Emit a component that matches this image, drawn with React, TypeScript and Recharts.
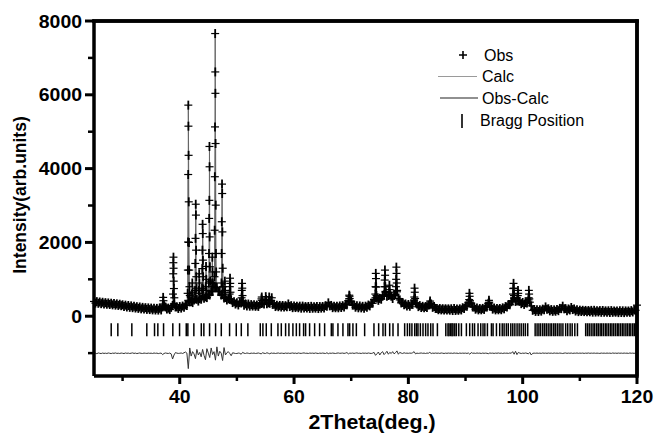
import React from 'react';
import { ComposedChart, Line, Scatter, XAxis, YAxis, Label } from 'recharts';

// 2Theta grid start and step for the background / difference readings
const GRID_START = 25;
const GRID_STEP = 0.25;

// Observed intensity read along the 0.25 deg grid (25 .. 120)
const obsGrid: number[] = [
  400, 355, 395, 350, 385, 340, 378, 332, 368, 325, 360, 318, 352, 308, 345, 300, 335, 292, 325, 285,
  310, 262, 300, 250, 290, 240, 280, 232, 268, 222, 258, 212, 250, 200, 240, 195, 232, 185, 226, 180,
  220, 172, 218, 168, 212, 166, 215, 170, 250, 275, 250, 195, 220, 180, 240, 290, 330, 250, 255, 210,
  262, 220, 275, 245, 305, 290, 430, 390, 400, 370, 440, 470, 460, 410, 475, 460, 545, 490, 525, 505,
  585, 575, 665, 670, 805, 770, 790, 670, 665, 575, 585, 495, 505, 440, 475, 455, 445, 370, 395, 330,
  365, 305, 370, 360, 385, 300, 335, 278, 330, 272, 315, 275, 308, 268, 305, 265, 325, 345, 355, 330,
  420, 340, 365, 350, 420, 320, 325, 262, 300, 258, 292, 250, 290, 248, 286, 258, 332, 262, 286, 232,
  275, 235, 268, 230, 272, 218, 274, 222, 262, 224, 264, 212, 268, 216, 256, 218, 260, 208, 262, 220,
  264, 226, 286, 268, 362, 280, 292, 232, 272, 230, 268, 228, 278, 236, 286, 248, 314, 310, 420, 410,
  402, 300, 302, 244, 282, 228, 278, 226, 268, 218, 272, 240, 302, 280, 352, 350, 452, 500, 492, 430,
  482, 460, 542, 580, 672, 540, 562, 580, 542, 480, 562, 600, 662, 480, 442, 360, 372, 310, 332, 280,
  318, 270, 322, 320, 440, 360, 332, 260, 288, 235, 268, 230, 262, 235, 302, 310, 332, 240, 262, 210,
  212, 176, 208, 172, 204, 168, 202, 166, 200, 164, 202, 154, 206, 156, 196, 160, 200, 170, 230, 212,
  278, 270, 362, 380, 352, 250, 252, 190, 220, 172, 208, 174, 212, 184, 250, 250, 342, 270, 262, 192,
  222, 172, 208, 174, 210, 176, 227, 200, 262, 248, 317, 310, 392, 420, 492, 400, 422, 410, 402, 340,
  372, 320, 367, 360, 442, 380, 282, 160, 182, 130, 177, 128, 174, 138, 192, 175, 252, 190, 202, 145,
  180, 132, 172, 135, 182, 150, 212, 205, 272, 200, 207, 150, 197, 170, 237, 180, 197, 140, 172, 125,
  164, 128, 160, 125, 157, 122, 154, 120, 158, 110, 160, 112, 150, 115, 152, 106, 155, 108, 146, 110,
  148, 102, 152, 105, 142, 108, 144, 98, 148, 100, 146, 98, 144, 108, 142, 105, 152, 115, 172, 160,
  300,
];

// Observed points on the Bragg peaks [2theta, intensity]
const obsPeaks: [number, number][] = [
  [37.05, 330], [37.1, 510], [37.15, 420], [37.2, 300],
  [38.82, 600], [38.86, 1150], [38.88, 1450], [38.9, 1600], [38.92, 1300], [38.95, 950], [38.98, 750], [39.05, 500],
  [41.38, 620], [41.42, 1250], [41.45, 2010], [41.48, 3840], [41.5, 5720], [41.52, 5150], [41.55, 4360],
  [41.58, 3100], [41.62, 2000], [41.66, 1250], [41.7, 800], [41.76, 560],
  [42.16, 600], [42.2, 900], [42.24, 650],
  [42.68, 700], [42.72, 1430], [42.76, 2110], [42.8, 3035], [42.83, 2740], [42.86, 1790], [42.9, 1070], [42.95, 760],
  [43.36, 700], [43.4, 1150], [43.44, 900], [43.48, 620],
  [43.9, 760], [43.94, 1290], [43.97, 1790], [44.0, 2490], [44.03, 2240], [44.06, 1520], [44.1, 1070], [44.15, 740],
  [44.56, 800], [44.6, 1350], [44.64, 1000], [44.68, 700],
  [45.08, 900], [45.12, 1700], [45.15, 2650], [45.18, 3140], [45.2, 4600], [45.22, 4050], [45.24, 2150], [45.28, 1340], [45.33, 950],
  [45.66, 900], [45.7, 1600], [45.74, 1200], [45.78, 900],
  [46.08, 1070], [46.11, 2330], [46.14, 3780], [46.17, 5130], [46.2, 7660], [46.22, 6620], [46.24, 6040],
  [46.27, 4680], [46.3, 3010], [46.34, 1700], [46.38, 1200],
  [47.3, 900], [47.33, 1700], [47.36, 2560], [47.4, 3580], [47.43, 3325], [47.46, 2285], [47.52, 1300], [47.56, 800],
  [47.86, 650], [47.9, 950], [47.94, 700],
  [48.72, 600], [48.76, 800], [48.8, 1030], [48.84, 890], [48.88, 650],
  [50.82, 500], [50.86, 700], [50.9, 890], [50.94, 760], [50.98, 560], [51.04, 420],
  [54.3, 470], [54.35, 520], [54.4, 430], [55.05, 530], [55.1, 450], [55.65, 520], [55.7, 430], [56.1, 500],
  [69.62, 470], [69.66, 570], [69.7, 540], [69.74, 480],
  [74.22, 600], [74.26, 800], [74.3, 1160], [74.33, 1020], [74.37, 790], [74.42, 560],
  [75.82, 800], [75.86, 980], [75.9, 1250], [75.93, 1110], [75.97, 800], [76.02, 650],
  [76.64, 650], [76.68, 840], [76.72, 720], [76.78, 580],
  [77.82, 800], [77.86, 1000], [77.9, 1330], [77.93, 1160], [77.97, 900], [78.03, 700],
  [81.04, 520], [81.08, 760], [81.12, 650], [81.18, 480],
  [83.76, 360], [83.8, 410],
  [90.64, 450], [90.68, 620], [90.72, 540], [90.78, 420],
  [94.06, 360], [94.1, 430], [94.14, 380],
  [98.32, 600], [98.36, 750], [98.4, 890], [98.44, 760], [98.48, 560],
  [99.14, 560], [99.18, 700], [99.22, 620],
  [101.04, 500], [101.08, 700], [101.12, 600], [101.16, 470],
];

// Obs - Calc difference read along the same 0.25 deg grid
const diffGrid: number[] = [
  -1010, -1000, -1015, -995, -1005, -1012, -998, -1008, -1002, -1010, -996, -1004, -1012, -1000, -1006, -995, -1008, -1003, -1010, -998,
  -1004, -1012, -996, -1006, -1000, -1010, -1002, -994, -1008, -1000, -1012, -1004, -996, -1006, -1010, -998, -1004, -1008, -1000, -1006,
  -1002, -1010, -996, -1006, -1000, -1012, -1004, -998, -1040, -1010, -996, -1004, -1010, -998, -1020, -1160, -1050, -985, -1000, -1008,
  -1004, -996, -1010, -990, -970, -1000, -1420, -860, -1080, -960, -1020, -1150, -900, -1050, -980, -1100, -900, -1060, -1180, -880,
  -1000, -1120, -860, -1040, -960, -1190, -830, -1080, -950, -1000, -1200, -850, -1050, -990, -960, -1010, -1070, -990, -1000, -1010,
  -1010, -998, -1005, -1030, -980, -1002, -1010, -996, -1004, -1012, -1000, -1006, -998, -1010, -1004, -996, -1008, -1020, -990, -1004,
  -1010, -990, -1004, -1018, -996, -1006, -1000, -1010, -1002, -996, -1008, -1000, -1004, -1010, -998, -1006, -1000, -1008, -1002, -996,
  -1006, -1000, -1010, -996, -1004, -1008, -1000, -994, -1006, -1002, -1010, -998, -1004, -1000, -1008, -996, -1004, -1010, -1000, -1006,
  -998, -1004, -1010, -990, -1015, -1000, -1006, -998, -1004, -1010, -1000, -996, -1006, -1002, -998, -1008, -1000, -985, -1020, -1000,
  -1004, -998, -1008, -1000, -994, -1006, -1002, -1010, -998, -1004, -1000, -1008, -996, -1004, -1010, -1000, -980, -1060, -1020, -970,
  -1050, -990, -960, -1040, -1000, -950, -1030, -980, -1010, -960, -1020, -990, -940, -1030, -980, -1000, -1010, -990, -1004, -1000,
  -1006, -998, -1004, -990, -960, -1020, -1000, -1008, -1002, -996, -1006, -1000, -1010, -998, -1004, -980, -1010, -1000, -1006, -998,
  -1004, -1000, -1008, -996, -1002, -1010, -1000, -1006, -998, -1004, -1000, -1008, -996, -1004, -1000, -1010, -998, -1006, -1000, -1004,
  -1000, -1008, -996, -1030, -985, -1004, -1000, -1008, -996, -1004, -1000, -1010, -998, -1006, -1000, -1004, -1015, -996, -1004, -1000,
  -1008, -1000, -1004, -996, -1006, -1000, -1010, -998, -1004, -1000, -1008, -996, -1004, -960, -1030, -950, -1040, -980, -1000, -1010,
  -1000, -1006, -996, -1004, -1020, -980, -1050, -1006, -1000, -1004, -998, -1006, -1000, -1008, -996, -1004, -1000, -1006, -998, -1004,
  -1000, -1008, -996, -1004, -1000, -1006, -998, -1004, -1010, -1000, -996, -1006, -1000, -1004, -998, -1008, -1000, -1004, -996, -1006,
  -1000, -1004, -998, -1008, -1000, -1004, -996, -1006, -1000, -1004, -998, -1006, -1000, -1004, -1008, -998, -1004, -1000, -1006, -998,
  -1004, -1000, -1008, -996, -1004, -1000, -1006, -998, -1004, -1000, -1006, -998, -1004, -1000, -1008, -996, -1004, -1000, -1006, -1000,
  -1000,
];

// Bragg reflection positions (2theta) and the level at which the tick row sits
const braggPositions: number[] = [
  28.01, 29.17, 31.62, 34.24, 35.59, 36.17, 37.17, 38.79, 39.97, 41.14, 41.42, 42.47, 43.77, 44.22, 45.22,
  46.27, 47.27, 48.72, 49.89, 50.77, 51.92, 54.09, 54.55, 55.14, 56.02, 57.18, 57.77, 58.52, 59.1, 59.8,
  60.4, 60.97, 61.67, 62.02, 62.72, 63.6, 64.47, 65.35, 66.52, 66.8, 67.68, 68.55, 69.43, 69.73, 70.3,
  70.9, 72.35, 73.98, 74.8, 75.56, 75.98, 76.73, 77.31, 78.19, 79.35, 79.83, 80.23, 80.62, 81.11, 81.42,
  81.68, 82.1, 82.56, 83.02, 83.43, 83.91, 84.31, 85.08, 86.55, 86.93, 87.12, 87.41, 87.63, 87.81, 88.12,
  88.4, 88.82, 89.28, 90.15, 90.73, 91.22, 91.58, 92.19, 92.66, 93.06, 93.38, 93.83, 94.53, 94.82, 95.41,
  95.98, 96.42, 96.75, 97.14, 97.48, 97.92, 98.27, 98.63, 99.02, 99.38, 99.74, 100.12, 100.47, 100.88,
  102.18, 102.52, 102.84, 103.15, 103.51, 103.82, 104.13, 104.46, 104.79, 105.08, 105.43, 105.71, 106.05,
  106.38, 106.7, 107.04, 107.52, 107.88, 108.3, 108.66, 109.12, 109.58, 111.02, 111.33, 111.64, 111.98,
  112.31, 112.6, 112.94, 113.22, 113.55, 113.81, 114.12, 114.45, 114.73, 115.04, 115.36, 115.62, 115.93,
  116.24, 116.55, 116.82, 117.13, 117.44, 117.72, 118.05, 118.33, 118.64, 118.92, 119.25, 119.52, 119.84,
];
const BRAGG_LEVEL = -366;

const xTicks = [30, 40, 50, 60, 70, 80, 90, 100, 110, 120];
const xMajor = [40, 60, 80, 100, 120];
const yTicks = [-1000, 0, 1000, 2000, 3000, 4000, 5000, 6000, 7000, 8000];
const yMajor = [0, 2000, 4000, 6000, 8000];

const X_DOMAIN: [number, number] = [25, 120];
const Y_DOMAIN: [number, number] = [-1620, 8000];

const gridX = obsGrid.map((_, i) => GRID_START + i * GRID_STEP);
const obsData = [
  ...obsGrid.map((y, i) => ({ x: gridX[i], y })),
  ...obsPeaks.map(([x, y]) => ({ x, y })),
].sort((a, b) => a.x - b.x);
const diffData = diffGrid.map((y, i) => ({ x: GRID_START + i * GRID_STEP, y }));
const braggData = braggPositions.map((x) => ({ x, y: BRAGG_LEVEL }));

// chart geometry
const W = 655;
const H = 435;
const MARGIN = { top: 21, right: 18, bottom: 29, left: 34 };
const Y_AXIS_W = 60;
const X_AXIS_H = 30;
const PLOT_X = MARGIN.left + Y_AXIS_W;
const PLOT_Y = MARGIN.top;
const PLOT_R = W - MARGIN.right;
const PLOT_B = H - MARGIN.bottom - X_AXIS_H;

const FONT = "'Liberation Sans', Arial, Helvetica, sans-serif";
const FRAME = { stroke: '#000', strokeWidth: 3.5 };

const PlusShape = (props: any) => {
  const { cx, cy } = props;
  if (cx == null || cy == null || isNaN(cx) || isNaN(cy)) return null;
  return (
    <g fill="none" stroke="#000">
      <path d={`M${cx - 4},${cy}H${cx + 4}`} strokeWidth={1.2} />
      <path d={`M${cx},${cy - 4.5}V${cy + 4.5}`} strokeWidth={1.8} />
    </g>
  );
};

const BraggShape = (props: any) => {
  const { cx, cy } = props;
  if (cx == null || cy == null || isNaN(cx) || isNaN(cy)) return null;
  return <line x1={cx} x2={cx} y1={cy - 6.5} y2={cy + 6.5} stroke="#000" strokeWidth={1.5} />;
};

const XTick = (props: any) => {
  const { x, y, payload } = props;
  const major = xMajor.includes(payload.value);
  const isLast = payload.value === X_DOMAIN[1];
  return (
    <g>
      {isLast && (
        <line x1={x} x2={x} y1={y + 1.75} y2={y - (PLOT_B - PLOT_Y) - 1.75} stroke="#000" strokeWidth={3.5} />
      )}
      <line x1={x} x2={x} y1={y} y2={y + (major ? 8 : 5)} stroke="#000" strokeWidth={major ? 3 : 2.5} />
      {major && (
        <text
          transform={`translate(${x},${y + 27}) scale(1.08,1)`}
          textAnchor="middle"
          fontSize={18}
          fontWeight="bold"
          fontFamily={FONT}
          fill="#000"
        >
          {payload.value}
        </text>
      )}
    </g>
  );
};

const YTick = (props: any) => {
  const { x, y, payload } = props;
  const major = yMajor.includes(payload.value);
  const isTop = payload.value === Y_DOMAIN[1];
  return (
    <g>
      {isTop && (
        <line x1={x - 1.75} x2={x + (PLOT_R - PLOT_X) + 1.75} y1={y} y2={y} stroke="#000" strokeWidth={3.5} />
      )}
      <line x1={x} x2={x - (major ? 9 : 6)} y1={y} y2={y} stroke="#000" strokeWidth={major ? 3 : 2.5} />
      {major && (
        <text
          transform={`translate(${x - 12},${y + 6.5}) scale(1.08,1)`}
          textAnchor="end"
          fontSize={18}
          fontWeight="bold"
          fontFamily={FONT}
          fill="#000"
        >
          {payload.value}
        </text>
      )}
    </g>
  );
};

const XTitle = () => (
  <text
    transform={`translate(372,429) scale(1.07,1)`}
    textAnchor="middle"
    fontSize={20}
    fontWeight="bold"
    fontFamily={FONT}
    fill="#000"
  >
    2Theta(deg.)
  </text>
);

const YTitle = () => (
  <text
    transform={`translate(26,195) rotate(-90)`}
    textAnchor="middle"
    fontSize={17.5}
    fontWeight="bold"
    fontFamily={FONT}
    fill="#000"
  >
    Intensity(arb.units)
  </text>
);

const legendItems = [
  { name: 'Obs', kind: 'plus' },
  { name: 'Calc', kind: 'calc' },
  { name: 'Obs-Calc', kind: 'diff' },
  { name: 'Bragg Position', kind: 'bragg' },
];

const Overlay = () => (
  <svg width={W} height={H} style={{ position: 'absolute', left: 0, top: 0, pointerEvents: 'none' }}>
    <line x1={PLOT_X - 1.75} x2={PLOT_R + 1.75} y1={PLOT_Y} y2={PLOT_Y} stroke="#000" strokeWidth={3.5} />
    <line x1={PLOT_R} x2={PLOT_R} y1={PLOT_Y} y2={PLOT_B} stroke="#000" strokeWidth={3.5} />
    {legendItems.map((it, i) => {
      const baseY = [60.5, 82, 103.5, 125.5][i];
      const midY = [55, 76.5, 98, 121][i];
      const textX = [484, 482, 482, 480][i];
      let sym = null;
      if (it.kind === 'plus')
        sym = <path d={`M459,${midY}H467M463,${midY - 4}V${midY + 4}`} stroke="#000" strokeWidth={1.6} />;
      if (it.kind === 'calc') sym = <line x1={438} x2={477} y1={midY} y2={midY} stroke="#9a9a9a" strokeWidth={1} />;
      if (it.kind === 'diff') sym = <line x1={440} x2={478} y1={midY} y2={midY} stroke="#222" strokeWidth={1.2} />;
      if (it.kind === 'bragg') sym = <line x1={462} x2={462} y1={114} y2={128} stroke="#000" strokeWidth={1.6} />;
      return (
        <g key={it.name}>
          {sym}
          <text x={textX} y={baseY} fontSize={16} fontFamily={FONT} fill="#000">
            {it.name}
          </text>
        </g>
      );
    })}
  </svg>
);

export default function App() {
  return (
    <div style={{ position: 'absolute', left: 0, top: 0, width: W, height: H, background: '#fff' }}>
      <ComposedChart width={W} height={H} margin={MARGIN}>
        <XAxis
          type="number"
          dataKey="x"
          domain={X_DOMAIN}
          ticks={xTicks}
          interval={0}
          tick={<XTick />}
          tickLine={false}
          axisLine={FRAME}
          tickSize={0}
          tickMargin={0}
          height={X_AXIS_H}
        >
          <Label content={<XTitle />} />
        </XAxis>
        <YAxis
          type="number"
          dataKey="y"
          domain={Y_DOMAIN}
          ticks={yTicks}
          interval={0}
          tick={<YTick />}
          tickLine={false}
          axisLine={FRAME}
          tickSize={0}
          tickMargin={0}
          width={Y_AXIS_W}
        >
          <Label content={<YTitle />} />
        </YAxis>
        <Line
          data={obsData}
          dataKey="y"
          type="linear"
          stroke="#666"
          strokeWidth={1}
          dot={false}
          activeDot={false}
          isAnimationActive={false}
          name="Calc"
        />
        <Scatter data={obsData} shape={<PlusShape />} isAnimationActive={false} name="Obs" />
        <Line
          data={diffData}
          dataKey="y"
          type="linear"
          stroke="#333"
          strokeWidth={1}
          dot={false}
          activeDot={false}
          isAnimationActive={false}
          name="Obs-Calc"
        />
        <Scatter data={braggData} shape={<BraggShape />} isAnimationActive={false} name="Bragg Position" />
      </ComposedChart>
      <Overlay />
    </div>
  );
}
